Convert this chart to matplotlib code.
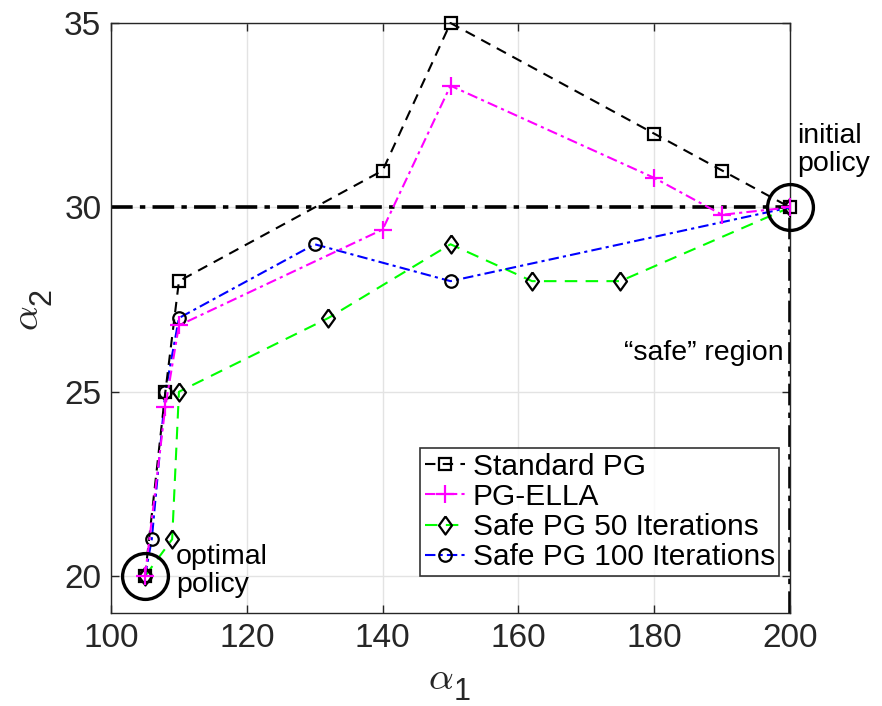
import matplotlib
matplotlib.use("Agg")
import matplotlib.pyplot as plt

plt.rcParams['font.family'] = ['Liberation Sans', 'DejaVu Sans']
plt.rcParams['mathtext.fontset'] = 'cm'

# Policy parameter trajectories (alpha_1, alpha_2)
std_pg_a1 = [105, 108, 110, 140, 150, 180, 190, 200]
std_pg_a2 = [20, 25, 28, 31, 35, 32, 31, 30]

ella_a1 = [105, 108, 110, 140, 150, 180, 190, 200]
ella_a2 = [20, 24.6, 26.8, 29.4, 33.3, 30.8, 29.8, 30]

safe50_a1 = [105, 109, 110, 132, 150, 162, 175, 200]
safe50_a2 = [20, 21, 25, 27, 29, 28, 28, 30]

safe100_a1 = [105, 106, 108, 110, 130, 150, 200]
safe100_a2 = [20, 21, 25, 27, 29, 28, 30]

optimal_policy = (105, 20)
initial_policy = (200, 30)
safe_a1 = 200
safe_a2 = 30

x_ticks = [100, 120, 140, 160, 180, 200]
y_ticks = [20, 25, 30, 35]

fig = plt.figure(figsize=(8.82, 7.06), dpi=100)
ax = fig.add_axes([0.1259, 0.1317, 0.7698, 0.8357])

# safe region boundary
boundary_style = dict(color='black', lw=2.6, linestyle=(0, (6, 2, 1.5, 2)), zorder=2)
ax.plot([100, safe_a1], [safe_a2, safe_a2], **boundary_style)
ax.plot([safe_a1, safe_a1], [19, safe_a2], **boundary_style)

diamond = [(0, 1), (0.72, 0), (0, -1), (-0.72, 0), (0, 1)]
mk = dict(markerfacecolor='none', markeredgecolor='black', markeredgewidth=1.6)
ax.plot(std_pg_a1, std_pg_a2, color='black', lw=1.5, linestyle=(0, (5, 3.5)),
        marker='s', markersize=8, label='Standard PG', zorder=4, clip_on=False, **mk)
ax.plot(ella_a1, ella_a2, color='#ff00ff', lw=1.5, linestyle=(0, (5, 2, 1.5, 2)),
        marker='+', markersize=13, markeredgewidth=1.6, label='PG-ELLA', zorder=4)
ax.plot(safe50_a1, safe50_a2, color='#00ff00', lw=1.5, linestyle=(0, (6, 4)),
        marker=diamond, markersize=13, label='Safe PG 50 Iterations', zorder=3, **mk)
ax.plot(safe100_a1, safe100_a2, color='#0000ff', lw=1.5, linestyle=(0, (5, 2, 1.5, 2)),
        marker='o', markersize=9, label='Safe PG 100 Iterations', zorder=3, **mk)

# endpoint highlights
for px, py in (optimal_policy, initial_policy):
    ax.plot([px], [py], marker='o', markersize=33, markerfacecolor='none',
            markeredgecolor='black', markeredgewidth=2.4, zorder=5, clip_on=False)

ax.text(109.6, 20.15, 'optimal\npolicy', fontsize=20.5, ha='left', va='center',
        linespacing=1.1)
ax.text(201.1, 31.55, 'initial\npolicy', fontsize=20.5, ha='left', va='center',
        linespacing=1.1, clip_on=False)
ax.text(199.1, 26.06, '\u201csafe\u201d region', fontsize=20.5, ha='right', va='center')

ax.set_xlim(100, 200)
ax.set_ylim(19, 35)
ax.set_xticks(x_ticks)
ax.set_yticks(y_ticks)
ax.tick_params(direction='in', labelsize=24, length=6, width=1, colors='#262626',
               top=True, right=True, pad=7)
ax.grid(True, color='#e3e3e3', linewidth=1)
ax.set_axisbelow(True)
for s in ax.spines.values():
    s.set_color('#262626')
    s.set_linewidth(1.0)

# axis labels: greek symbol with a large upright subscript
fig.text(441 / 882, 1 - 679 / 706, r'$\alpha$', fontsize=28, color='#262626',
         ha='center', va='center')
fig.text(462 / 882, 1 - 692 / 706, '1', fontsize=22, color='#262626',
         ha='center', va='center')
fig.text(28 / 882, 1 - 318 / 706, r'$\alpha$', fontsize=28, color='#262626',
         ha='center', va='center', rotation=90)
fig.text(42 / 882, 1 - 297 / 706, '2', fontsize=22, color='#262626',
         ha='center', va='center', rotation=90)

leg = ax.legend(loc='lower right', bbox_to_anchor=(0.9845, 0.0635), fontsize=21.5,
                frameon=True, fancybox=False, edgecolor='black', handlelength=1.35,
                handletextpad=0.25, borderpad=0.15, labelspacing=0.07,
                borderaxespad=0.0)
leg.get_frame().set_linewidth(1.2)

fig.savefig('out.png', dpi=100)
